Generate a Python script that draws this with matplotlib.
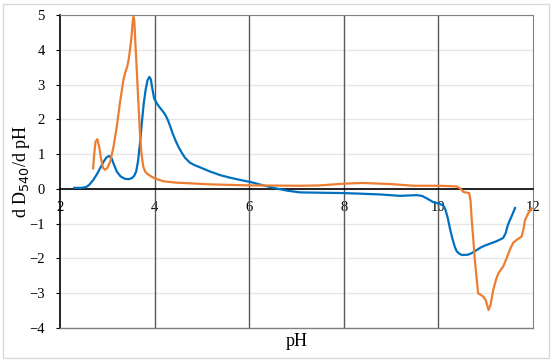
import matplotlib
matplotlib.use('Agg')
import matplotlib.pyplot as plt
from matplotlib.patches import Rectangle

plt.rcParams['font.family'] = ['Liberation Serif', 'DejaVu Serif']

# blue series
ph_blue = [2.3, 2.45, 2.55, 2.62, 2.7, 2.78, 2.85, 2.92, 2.98, 3.04, 3.09, 3.14, 3.2,
           3.28, 3.37, 3.45, 3.52, 3.57, 3.61, 3.65, 3.69, 3.73, 3.77, 3.81, 3.85,
           3.89, 3.92, 3.95, 3.99, 4.05, 4.12, 4.18, 4.23, 4.28, 4.33, 4.38, 4.44,
           4.5, 4.57, 4.64, 4.75, 4.85, 4.96, 5.17, 5.4, 5.6, 5.8, 6.02, 6.3, 6.58,
           6.8, 7.07, 7.5, 7.98, 8.4, 8.77, 9.19, 9.54, 9.65, 9.75, 9.89, 10.0, 10.1,
           10.15, 10.2, 10.25, 10.3, 10.35, 10.39, 10.45, 10.5, 10.56, 10.63, 10.7,
           10.81, 10.9, 11.02, 11.2, 11.3, 11.37, 11.42, 11.47, 11.55, 11.62]
d_blue = [0.03, 0.03, 0.05, 0.12, 0.25, 0.42, 0.6, 0.78, 0.9, 0.95, 0.88, 0.7, 0.5,
          0.36, 0.29, 0.28, 0.31, 0.38, 0.5, 0.8, 1.3, 1.9, 2.45, 2.85, 3.12,
          3.22, 3.15, 2.9, 2.6, 2.45, 2.32, 2.22, 2.12, 1.98, 1.8, 1.6, 1.4,
          1.22, 1.05, 0.9, 0.75, 0.68, 0.62, 0.5, 0.39, 0.32, 0.26, 0.2, 0.1, 0.01,
          -0.05, -0.1, -0.11, -0.12, -0.14, -0.16, -0.2, -0.18, -0.2, -0.27, -0.38, -0.42, -0.47,
          -0.6, -0.85, -1.18, -1.45, -1.68, -1.8, -1.87, -1.9, -1.9, -1.89, -1.85,
          -1.76, -1.68, -1.61, -1.52, -1.46, -1.41, -1.28, -1.03, -0.78, -0.55]

# orange series
ph_orange = [2.7, 2.72, 2.75, 2.79, 2.83, 2.87, 2.91, 2.95, 3.0, 3.06, 3.13, 3.2, 3.27,
             3.34, 3.38, 3.42, 3.45, 3.48, 3.51, 3.53, 3.55, 3.57, 3.59, 3.62, 3.66,
             3.69, 3.72, 3.76, 3.8, 3.85, 3.9, 3.98, 4.05, 4.18, 4.45, 4.75, 5.17,
             6.02, 7.07, 7.5, 8.0, 8.4, 8.98, 9.47, 10.03, 10.39, 10.47, 10.53,
             10.65, 10.68, 10.7, 10.74, 10.77, 10.81, 10.84, 10.9, 10.95, 11.0,
             11.06, 11.1, 11.16, 11.22, 11.27, 11.37, 11.44, 11.51, 11.58, 11.65,
             11.76, 11.8, 11.83, 11.9, 11.97]
d_orange = [0.59, 0.95, 1.35, 1.43, 1.2, 0.85, 0.6, 0.55, 0.6, 0.78, 1.2, 1.79, 2.5,
            3.13, 3.35, 3.51, 3.7, 4.0, 4.35, 4.7, 4.95, 4.85, 4.3, 3.5, 2.4,
            1.6, 1.05, 0.64, 0.5, 0.43, 0.38, 0.32, 0.28, 0.22, 0.18, 0.16, 0.13,
            0.1, 0.09, 0.1, 0.15, 0.17, 0.14, 0.09, 0.09, 0.07, 0.0, -0.09,
            -0.12, -0.35, -0.8, -1.5, -2.04, -2.6, -3.0, -3.05, -3.1, -3.2,
            -3.48, -3.35, -2.9, -2.6, -2.42, -2.23, -2.0, -1.75, -1.55, -1.47,
            -1.37, -1.15, -0.9, -0.7, -0.56]

x_ticks = [2, 4, 6, 8, 10, 12]
y_ticks = [-4, -3, -2, -1, 0, 1, 2, 3, 4, 5]

fig = plt.figure(figsize=(5.52, 3.62), dpi=100)
ax = fig.add_axes([0.1087, 0.0939, 0.8569, 0.8647])

ax.plot(ph_blue, d_blue, color='#0070C0', lw=1.6, solid_joinstyle='round', zorder=4)
ax.plot(ph_orange, d_orange, color='#ED7D31', lw=1.6, solid_joinstyle='round', zorder=4)

ax.set_xlim(2, 12)
ax.set_ylim(-4, 5)
ax.set_xticks(x_ticks)
ax.set_yticks(y_ticks)

# light horizontal grid, dark vertical grid
for y in y_ticks:
    ax.axhline(y, color='#E6E6E6', lw=1, zorder=1)
for x in x_ticks[1:-1]:
    ax.axvline(x, color='#595959', lw=1, zorder=2)

# x axis crosses at y=0, frame drawn in gray
ax.spines['bottom'].set_position(('data', 0))
ax.spines['bottom'].set_color('black')
ax.spines['bottom'].set_linewidth(1.2)
ax.spines['left'].set_color('black')
ax.spines['left'].set_linewidth(1.2)
for s in ['top', 'right']:
    ax.spines[s].set_color('#808080')
ax.axhline(-4, color='#808080', lw=1, clip_on=False, zorder=3)

ax.tick_params(axis='x', length=0, pad=9, labelsize=10.5)
ax.tick_params(axis='y', length=3, direction='out', pad=8, labelsize=10.5)

ax.set_xlabel('pH', fontsize=13)
ax.xaxis.label.set_verticalalignment('center')
ax.xaxis.set_label_coords(0.5, -0.042)
ax.set_ylabel('d D$_{540}$/d pH', fontsize=13)
ax.yaxis.label.set_verticalalignment('center')
ax.yaxis.set_label_coords(-0.082, 0.5)

fig.patches.append(Rectangle((0.006, 0.01), 0.988, 0.978, transform=fig.transFigure,
                             fill=False, edgecolor='#D9D9D9', lw=1))

fig.savefig('out.png', dpi=100)
